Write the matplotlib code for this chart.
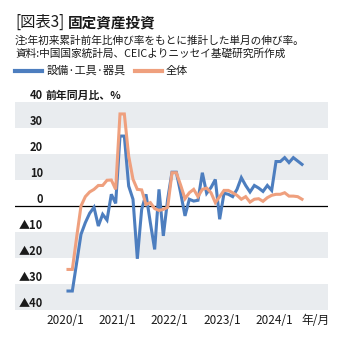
import matplotlib
matplotlib.use("Agg")
import matplotlib.pyplot as plt
import numpy as np
from matplotlib.lines import Line2D

plt.rcParams['font.family'] = ['Noto Sans CJK JP', 'DejaVu Sans']

# ---- data -------------------------------------------------------------
series_names = ["設備·工具·器具", "全体"]
# monthly, 2020/1 .. 2024/7
equipment = [
    -32.7, -32.7, -21.8, -10.9, -6.4, -2.8, -0.5, -7.7, -3.2, -5.4, 4.5, 1.0,
    26.9, 26.9, 7.7, 2.6, -20.3, -1.3, 4.5, -6.4, -16.7, 6.4, -11.5, 2.6,
    13.0, 13.0, 5.0, -3.8, 2.6, 1.9, 2.2, 12.8, 4.9, 7.1, 10.2, -5.1,
    4.9, 4.5, 3.6, 6.4, 10.9, 7.9, 5.4, 7.9, 6.9, 5.6, 7.9, 6.0,
    17.1, 17.1, 18.6, 16.7, 18.6, 17.3, 16.0,
]
total = [
    -24.4, -24.4, -12.0, 0.0, 3.6, 5.4, 6.4, 7.9, 7.9, 9.9, 10.0, 6.4,
    35.4, 35.4, 19.2, 10.3, 6.4, 6.2, 0.6, 1.3, -1.0, -1.7, -1.3, -0.5,
    12.8, 12.8, 8.0, 2.8, 5.1, 6.4, 3.6, 6.4, 6.9, 5.1, 1.3, 3.6,
    6.0, 6.0, 5.1, 4.1, 2.6, 3.6, 1.5, 2.6, 2.8, 1.8, 3.2, 4.1,
    4.5, 4.5, 5.1, 3.8, 3.8, 3.6, 2.6,
]
xtick_labels = ["2020/1", "2021/1", "2022/1", "2023/1", "2024/1"]
x_unit_label = "年/月"
ytick_values = [40, 30, 20, 10, 0, -10, -20, -30, -40]
y_unit_label = "前年同月比、%"

title_prefix = "[図表3]"
title_main = "固定資産投資"
note_text = "注:年初来累計前年比伸び率をもとに推計した単月の伸び率。"
source_text = "資料:中国国家統計局、CEICよりニッセイ基礎研究所作成"

# ---- style ------------------------------------------------------------
BLUE = "#4d7ebf"
ORANGE = "#efa07e"
BAND = "#e9ecef"
TXT = "#1a1a1a"

W, H = 342, 347
fig = plt.figure(figsize=(W / 100, H / 100), dpi=100)


def fx(px):
    return px / W


def fy(py):
    return 1 - py / H


ax = fig.add_axes([fx(15), fy(310), fx(328) - fx(15), fy(102) - fy(310)])
ax.set_xlim(-12.23, 60.0)
ax.set_ylim(-40, 40)
for lo in (30, 10, -20, -40):
    ax.axhspan(lo, lo + 10, color=BAND, lw=0, zorder=0)
ax.axhline(0, color="black", lw=0.9, zorder=1)

x = np.arange(len(equipment))
ax.plot(x, equipment, color=BLUE, lw=2.2, solid_joinstyle="miter", zorder=3)
ax.plot(x, total, color=ORANGE, lw=2.2, solid_joinstyle="miter", zorder=4)

for s in ax.spines.values():
    s.set_visible(False)
ax.set_yticks([])
xt = [12 * k - 0.5 for k in range(len(xtick_labels))] + [57.2]
ax.set_xticks(xt, xtick_labels + [x_unit_label])
ax.tick_params(axis="x", length=0, pad=3, labelsize=8.5, labelcolor=TXT)

for v in ytick_values:
    lab = str(v) if v >= 0 else "▲" + str(-v)
    ax.text(-5.8, v + 1.3, lab, ha="right", va="baseline", fontsize=8,
            fontweight="bold", color=TXT, clip_on=False)
ax.text(-5.1, 40 + 1.3, y_unit_label, ha="left", va="baseline", fontsize=7.8,
        fontweight="bold", color=TXT, clip_on=False)

# ---- header ----------------------------------------------------------
fig.text(fx(15), fy(27), title_prefix, fontsize=11, va="baseline", color=TXT)
fig.text(fx(67.5), fy(27), title_main, fontsize=10.5, fontweight="bold",
         va="baseline", color=TXT)
fig.text(fx(15), fy(43.5), note_text, fontsize=7.7, va="baseline", color=TXT)
fig.text(fx(15), fy(57), source_text, fontsize=7.7, va="baseline", color=TXT)

# legend
fig.add_artist(Line2D([fx(15), fx(42)], [fy(71), fy(71)], color=BLUE, lw=3.0))
fig.text(fx(46.5), fy(71), series_names[0], fontsize=8, va="center", color=TXT)
fig.add_artist(Line2D([fx(135), fx(162)], [fy(71), fy(71)], color=ORANGE, lw=3.0))
fig.text(fx(166), fy(71), series_names[1], fontsize=8, va="center", color=TXT)

fig.savefig("out.png", dpi=100)
